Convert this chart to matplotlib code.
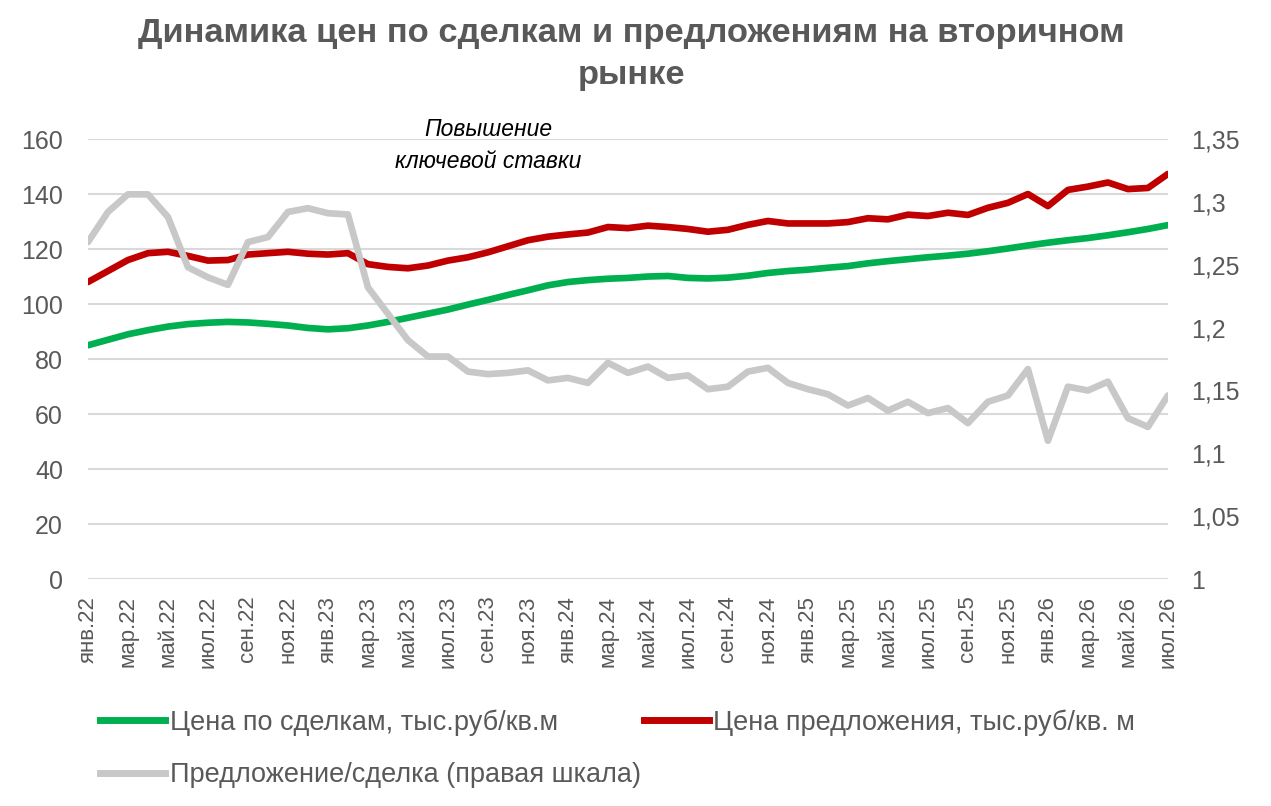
import numpy as np
import matplotlib.pyplot as plt
from matplotlib.lines import Line2D

# month labels shown on the x axis (every second month, янв.22 .. июл.26)
tick_labels = ['янв.22', 'мар.22', 'май.22', 'июл.22', 'сен.22', 'ноя.22',
               'янв.23', 'мар.23', 'май.23', 'июл.23', 'сен.23', 'ноя.23',
               'янв.24', 'мар.24', 'май.24', 'июл.24', 'сен.24', 'ноя.24',
               'янв.25', 'мар.25', 'май.25', 'июл.25', 'сен.25', 'ноя.25',
               'янв.26', 'мар.26', 'май.26', 'июл.26']

# monthly values, янв.22 .. июл.26
deal_price = [85, 87, 89, 90.5, 91.8, 92.7, 93.2, 93.5, 93.3, 92.8,
              92.2, 91.3, 90.8, 91.2, 92.2, 93.5, 95, 96.5, 98, 99.8,
              101.5, 103.3, 105, 106.8, 108, 108.7, 109.2, 109.5, 110, 110.2,
              109.5, 109.3, 109.6, 110.3, 111.3, 112, 112.5, 113.2, 113.8, 114.8,
              115.6, 116.3, 117, 117.6, 118.3, 119.2, 120.2, 121.3, 122.3, 123.2,
              124, 125, 126.1, 127.3, 128.7]

offer_price = [108, 112, 116, 118.5, 119, 117.5, 115.8, 116, 118, 118.5,
               119, 118.3, 118, 118.5, 114.5, 113.5, 113, 114, 115.8, 117,
               118.8, 121, 123.2, 124.5, 125.3, 126, 128, 127.6, 128.5, 128,
               127.3, 126.3, 127, 128.8, 130.2, 129.3, 129.3, 129.3, 129.8, 131.2,
               130.8, 132.5, 132, 133.2, 132.4, 135, 136.8, 140, 135.6, 141.5,
               142.7, 144.2, 141.8, 142.2, 147.3]

offer_to_deal = [1.268, 1.292, 1.306, 1.306, 1.288, 1.248, 1.240, 1.234, 1.268, 1.272,
                 1.292, 1.295, 1.291, 1.290, 1.232, 1.211, 1.190, 1.177, 1.177, 1.165,
                 1.163, 1.164, 1.166, 1.158, 1.160, 1.156, 1.172, 1.164, 1.169, 1.160,
                 1.162, 1.151, 1.153, 1.165, 1.168, 1.156, 1.151, 1.147, 1.138, 1.144,
                 1.134, 1.141, 1.132, 1.136, 1.124, 1.141, 1.146, 1.167, 1.110, 1.153,
                 1.150, 1.157, 1.128, 1.121, 1.146]

left_ticks = [0, 20, 40, 60, 80, 100, 120, 140, 160]
right_ticks = [1, 1.05, 1.1, 1.15, 1.2, 1.25, 1.3, 1.35]
right_labels = ['1', '1,05', '1,1', '1,15', '1,2', '1,25', '1,3', '1,35']

GREEN = '#00B050'
RED = '#C00000'
GRAY = '#C8C8C8'
TEXT = '#595959'
FONT = 'Liberation Sans'

plt.rcParams['font.family'] = [FONT, 'DejaVu Sans']

x = np.arange(len(deal_price))

fig = plt.figure(figsize=(12.71, 8.06), dpi=100)
ax = fig.add_axes([0.0692, 0.2816, 0.8497, 0.5459])

ax.plot(x, deal_price, color=GREEN, lw=4.8, solid_capstyle='round', solid_joinstyle='round')
ax.plot(x, offer_price, color=RED, lw=4.8, solid_capstyle='round', solid_joinstyle='round')

ax.set_xlim(0, len(x) - 1)
ax.set_ylim(0, 160)
ax.set_yticks(left_ticks)
ax.grid(axis='y', color='#D9D9D9', lw=1.5)
ax.set_axisbelow(True)
ax.set_xticks(x[::2])
ax.set_xticklabels(tick_labels, rotation=90, fontsize=16, color=TEXT, va='top')
ax.tick_params(axis='x', length=0, pad=12)
ax.tick_params(axis='y', length=0, pad=18, labelsize=18, labelcolor=TEXT)
for s in ax.spines.values():
    s.set_visible(False)

ax2 = ax.twinx()
ax2.plot(x, offer_to_deal, color=GRAY, lw=4.8, solid_capstyle='round', solid_joinstyle='round')
ax2.set_ylim(1, 1.35)
ax2.set_yticks(right_ticks)
ax2.set_yticklabels(right_labels)
ax2.tick_params(axis='y', length=0, pad=17, labelsize=18, labelcolor=TEXT)
for s in ax2.spines.values():
    s.set_visible(False)

# annotation
ax.text(20, 157.8, 'Повышение\nключевой ставки', ha='center', va='center',
        fontsize=16.5, style='italic', color='black', linespacing=1.5, clip_on=False)

fig.text(0.497, 0.932, 'Динамика цен по сделкам и предложениям на вторичном\nрынке',
         ha='center', va='center', fontsize=24.8, fontweight='bold', color=TEXT,
         linespacing=1.45)

handles = [Line2D([], [], color=GREEN, lw=5),
           Line2D([], [], color=GRAY, lw=5),
           Line2D([], [], color=RED, lw=5)]
labels = ['Цена по сделкам, тыс.руб/кв.м',
          'Предложение/сделка (правая шкала)',
          'Цена предложения, тыс.руб/кв. м']
fig.legend(handles, labels, loc='upper left', bbox_to_anchor=(0.0787, 0.120),
           ncol=2, frameon=False, fontsize=19.5, handlelength=2.4, handletextpad=0.18,
           labelspacing=0.97, columnspacing=0.1, borderpad=0, borderaxespad=0,
           labelcolor=TEXT)

fig.savefig('out.png', dpi=100)
